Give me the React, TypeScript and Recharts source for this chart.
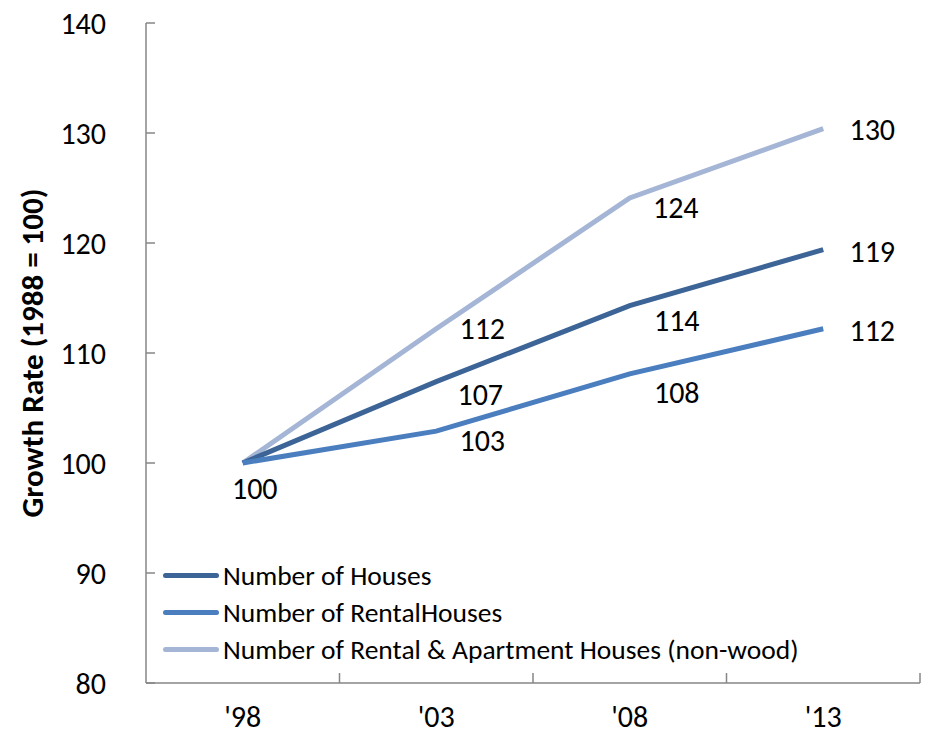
import React from 'react';
import { LineChart, Line, XAxis, YAxis, Legend, LabelList } from 'recharts';

const years = ["'98", "'03", "'08", "'13"];
const houses = [100, 107.4, 114.3, 119.4];
const rentalHouses = [100, 102.9, 108.1, 112.2];
const rentalApartments = [100, 112.2, 124.1, 130.4];
const yTicks = [80, 90, 100, 110, 120, 130, 140];
const seriesNames = [
  'Number of Houses',
  'Number of RentalHouses',
  'Number of Rental & Apartment Houses (non-wood)',
];

const data = years.map((year, i) => ({
  year,
  houses: houses[i],
  rental: rentalHouses[i],
  apartments: rentalApartments[i],
}));

const FONT = 'Carlito, Calibri, Lato, sans-serif';
const AXIS = '#868686';
const COLORS = ['#3C6496', '#4A7EBF', '#A4B5D5'];

const W = 930;
const H = 734;
const LEFT = 146;
const RIGHT = 10;
const HALF_STEP = (W - LEFT - RIGHT) / (years.length * 2);

// label offsets (dx, dy) from each point, null = no label
const labelOffsets: ([number, number] | null)[][] = [
  [null, [44, 13], [47, 15], [49, 2]],
  [[12, 25], [46, 9], [47, 19], [49, 2]],
  [null, [46, 0], [46, 10], [49, 1]],
];

const makeLabel = (s: number) => (props: any) => {
  const { x, y, value, index } = props;
  const off = labelOffsets[s][index];
  if (!off) return null;
  return (
    <text x={x + off[0]} y={y + off[1]} textAnchor="middle" dominantBaseline="central"
      fontFamily={FONT} fontSize={30} fill="#000">
      {Math.round(value)}
    </text>
  );
};

const XTick = (props: any) => {
  const { x, y, payload } = props;
  return (
    <g>
      <text x={x} y={y + 44} textAnchor="middle" fontFamily={FONT} fontSize={30} fill="#000">
        {payload.value}
      </text>
      <line x1={x + HALF_STEP} y1={y} x2={x + HALF_STEP} y2={y - 10} stroke={AXIS} strokeWidth={1.5} />
    </g>
  );
};

const YTick = (props: any) => {
  const { x, y, payload } = props;
  return (
    <g>
      <text x={x - 40} y={y} textAnchor="end" dominantBaseline="central" fontFamily={FONT} fontSize={30} fill="#000">
        {payload.value}
      </text>
      <line x1={x} y1={y} x2={x + 9} y2={y} stroke={AXIS} strokeWidth={1.5} />
    </g>
  );
};

const YLabel = (props: any) => {
  const vb = props.viewBox;
  const cx = 32;
  const cy = vb.y + vb.height / 2;
  return (
    <text x={cx} y={cy} transform={`rotate(-90, ${cx}, ${cy})`} textAnchor="middle" dominantBaseline="central"
      fontFamily={FONT} fontSize={31} fontWeight="bold" fill="#000">
      Growth Rate (1988 = 100)
    </text>
  );
};

const LegendContent = () => (
  <div style={{ fontFamily: FONT, fontSize: 27.5, color: '#000' }}>
    {seriesNames.map((name, i) => (
      <div key={name} style={{ display: 'flex', alignItems: 'center', height: 37, whiteSpace: 'nowrap' }}>
        <div style={{ width: 56, height: 5, borderRadius: 3, background: COLORS[i], marginRight: 4 }} />
        <span>{name}</span>
      </div>
    ))}
  </div>
);

export default function App() {
  return (
    <div style={{ position: 'absolute', left: 0, top: 0, width: W, height: H, background: '#fff' }}>
      <LineChart width={W} height={H} data={data} margin={{ top: 23, right: RIGHT, bottom: 0, left: 0 }}>
        <XAxis dataKey="year" height={51} padding={{ left: HALF_STEP, right: HALF_STEP }}
          axisLine={{ stroke: AXIS, strokeWidth: 1.5 }} tickLine={false} tickSize={0} tickMargin={0}
          tick={<XTick />} interval={0} />
        <YAxis width={LEFT} domain={[80, 140]} ticks={yTicks} allowDataOverflow
          axisLine={{ stroke: AXIS, strokeWidth: 1.5 }} tickLine={false} tickSize={0} tickMargin={0}
          tick={<YTick />} interval={0} label={YLabel} />
        <Legend layout="vertical" align="center" verticalAlign="middle" content={<LegendContent />}
          wrapperStyle={{ left: 163, top: 557, width: 'auto' }} />
        <Line dataKey="apartments" name={seriesNames[2]} stroke={COLORS[2]} strokeWidth={5} dot={false}
          isAnimationActive={false}>
          <LabelList dataKey="apartments" content={makeLabel(2)} />
        </Line>
        <Line dataKey="houses" name={seriesNames[0]} stroke={COLORS[0]} strokeWidth={5} dot={false}
          isAnimationActive={false}>
          <LabelList dataKey="houses" content={makeLabel(0)} />
        </Line>
        <Line dataKey="rental" name={seriesNames[1]} stroke={COLORS[1]} strokeWidth={5} dot={false}
          isAnimationActive={false}>
          <LabelList dataKey="rental" content={makeLabel(1)} />
        </Line>
      </LineChart>
    </div>
  );
}
